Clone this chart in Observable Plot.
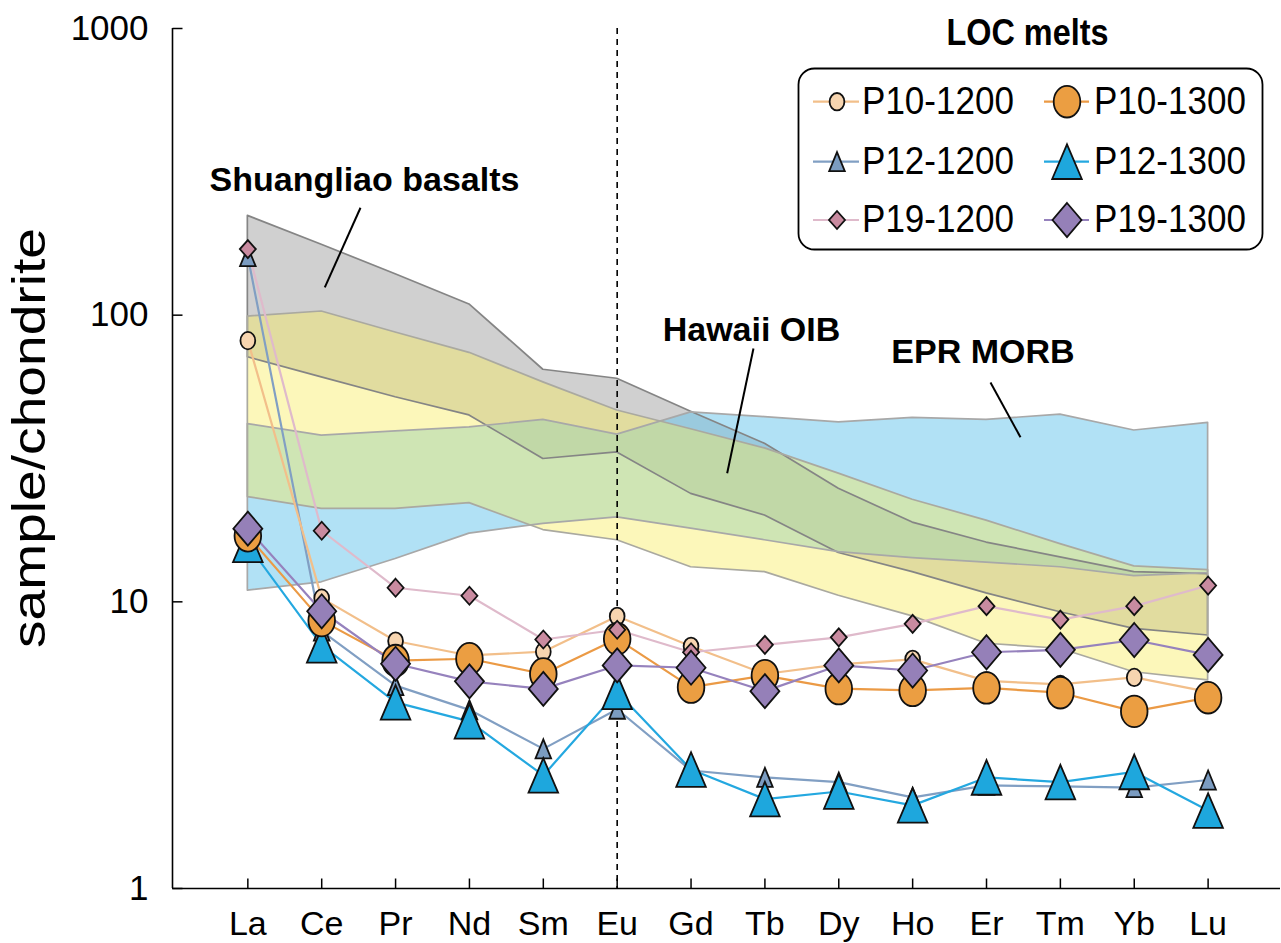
<!DOCTYPE html>
<html><head><meta charset="utf-8">
<script src="https://cdn.jsdelivr.net/npm/d3@7"></script>
<script src="https://cdn.jsdelivr.net/npm/@observablehq/plot@0.6"></script>
<style>
html,body{margin:0;padding:0;background:#fff;}
#wrap{position:relative;width:1281px;height:943px;}
#wrap svg{position:absolute;left:0;top:0;}
</style></head><body><div id="wrap"></div>
<script>
// ---------- data ----------
const elements = ["La","Ce","Pr","Nd","Sm","Eu","Gd","Tb","Dy","Ho","Er","Tm","Yb","Lu"];
const yTicks = [1, 10, 100, 1000];

const P10_1200 = [81.5, 10.3, 7.3, 6.5, 6.7, 8.9, 7.0, 5.6, 6.05, 6.3, 5.3, 5.15, 5.45, 4.85];
const P10_1300 = [17.0, 8.6, 6.24, 6.33, 5.6, 7.43, 5.04, 5.53, 4.98, 4.91, 5.01, 4.82, 4.15, 4.63];
const P12_1200 = [160, 7.9, 5.1, 4.2, 3.07, 4.22, 2.58, 2.44, 2.35, 2.08, 2.29, 2.27, 2.25, 2.39];
const P12_1300 = [15.8, 7.05, 4.46, 3.83, 2.48, 4.85, 2.6, 2.05, 2.18, 1.95, 2.44, 2.35, 2.55, 1.87];
const P19_1200 = [170, 17.7, 11.2, 10.5, 7.39, 7.99, 6.67, 7.08, 7.52, 8.38, 9.66, 8.67, 9.66, 11.4];
const P19_1300 = [18.0, 9.27, 6.08, 5.28, 4.97, 6.0, 5.89, 4.88, 6.0, 5.76, 6.67, 6.8, 7.36, 6.53];

const shuangliaoMax = [222, 176, 139, 109, 64.5, 60, 46, 35.6, 24.8, 18.9, 16.1, 14.3, 12.7, 12.5];
const shuangliaoMin = [71.3, 60.7, 51.7, 44.7, 31.5, 33.2, 23.8, 20.0, 14.8, 12.7, 10.7, 9.2, 8.05, 7.63];
const hawaiiMax = [98.9, 103, 87, 73.9, 58.3, 46.5, 40, 34.3, 28, 22.7, 19.2, 15.9, 13.3, 12.9];
const hawaiiMin = [23.2, 21.1, 21.1, 22.1, 17.8, 16.4, 13.2, 12.7, 10.5, 8.9, 7.14, 6.86, 5.68, 5.32];
const morbMax = [41.7, 38, 39.3, 40.6, 43.1, 38.3, 45.8, 44.1, 42.3, 43.8, 43.1, 45, 39.6, 42.1];
const morbMin = [10.95, 11.7, 14.1, 17.3, 18.7, 19.7, 18, 16.4, 14.9, 14.2, 13.7, 13.2, 12.3, 12.6];

const seriesNames = ["P10-1200","P10-1300","P12-1200","P12-1300","P19-1200","P19-1300"];

// ---------- symbols (marker shapes) ----------
function ellipseSym(hw, hh){ return {draw(c){ const k=0.5523;
  c.moveTo(hw,0); c.bezierCurveTo(hw,k*hh,k*hw,hh,0,hh); c.bezierCurveTo(-k*hw,hh,-hw,k*hh,-hw,0);
  c.bezierCurveTo(-hw,-k*hh,-k*hw,-hh,0,-hh); c.bezierCurveTo(k*hw,-hh,hw,-k*hh,hw,0); c.closePath(); }}; }
function triSym(hw, hh){ return {draw(c){ c.moveTo(0,-hh); c.lineTo(hw,hh); c.lineTo(-hw,hh); c.closePath(); }}; }
function diaSym(hw, hh){ return {draw(c){ c.moveTo(0,-hh); c.lineTo(hw,0); c.lineTo(0,hh); c.lineTo(-hw,0); c.closePath(); }}; }
const hTick = {draw(c){ c.moveTo(0,0); c.lineTo(10,0); }};
const vTick = {draw(c){ c.moveTo(0,0); c.lineTo(0,-10); }};

const styles = {
  "P10-1200": {values: P10_1200, line: "#f2bf8a", fill: "#f7d5b0", sym: ellipseSym(7.4, 8.7)},
  "P10-1300": {values: P10_1300, line: "#eb9a45", fill: "#eb9e42", sym: ellipseSym(13.3, 15.8)},
  "P12-1200": {values: P12_1200, line: "#819fc3", fill: "#7b9cc1", sym: triSym(7.8, 9.5)},
  "P12-1300": {values: P12_1300, line: "#24a8e0", fill: "#1ea7dd", sym: triSym(14.8, 17.3)},
  "P19-1200": {values: P19_1200, line: "#dfbacb", fill: "#c98ba0", sym: diaSym(8.0, 9.0)},
  "P19-1300": {values: P19_1300, line: "#9682bd", fill: "#9580b8", sym: diaSym(14.5, 17.0)}
};
const drawOrder = ["P12-1200","P12-1300","P10-1200","P10-1300","P19-1200","P19-1300"];

const FONT = "Liberation Sans, Arial, Helvetica, sans-serif";
const xMin = -1.02, xMax = 13.98;

const rows = arr => arr.map((v, i) => ({i, v}));
const band = (lo, hi) => lo.map((v, i) => ({i, lo: v, hi: hi[i]}));

const bands = [
  {data: band(shuangliaoMin, shuangliaoMax), fill: "#7c7c7c", op: 0.36, stroke: "#858585"},
  {data: band(morbMin, morbMax), fill: "#64c3eb", op: 0.5, stroke: "#a8a8a8"},
  {data: band(hawaiiMin, hawaiiMax), fill: "#f7ec5a", op: 0.42, stroke: "#aaa9a0"}
];

const labels = [
  {text: "Shuangliao basalts", x: 1.579, y: 295},
  {text: "Hawaii OIB", x: 6.818, y: 88.4},
  {text: "EPR MORB", x: 9.952, y: 74.1}
];
const leaders = [
  {x1: 1.525, y1: 237, x2: 1.042, y2: 125},
  {x1: 6.845, y1: 76.5, x2: 6.489, y2: 28.1},
  {x1: 10.054, y1: 58.2, x2: 10.46, y2: 37.5}
];

const marks = [];
for (const b of bands) marks.push(Plot.areaY(b.data, {x: "i", y1: "lo", y2: "hi", fill: b.fill, fillOpacity: b.op}));
for (const b of bands) marks.push(Plot.areaY(b.data, {x: "i", y1: "lo", y2: "hi", fill: "none", stroke: b.stroke, strokeWidth: 1.7}));
marks.push(Plot.ruleX([5], {stroke: "black", strokeWidth: 1.6, strokeDasharray: "6,5"}));
for (const n of drawOrder) {
  const s = styles[n];
  marks.push(Plot.line(rows(s.values), {x: "i", y: "v", stroke: s.line, strokeWidth: 2.2}));
}
for (const n of drawOrder) {
  const s = styles[n];
  marks.push(Plot.dot(rows(s.values), {x: "i", y: "v", symbol: s.sym, r: 5, fill: s.fill, stroke: "#111", strokeWidth: 1.8}));
}
// axes
marks.push(Plot.ruleX([xMin], {stroke: "black", strokeWidth: 1.6}));
marks.push(Plot.ruleY([1], {stroke: "black", strokeWidth: 1.6}));
marks.push(Plot.dot(yTicks, {x: () => xMin, y: d => d, symbol: hTick, r: 5, fill: "none", stroke: "black", strokeWidth: 1.5}));
marks.push(Plot.dot(elements, {x: (d, i) => i, y: () => 1, symbol: vTick, r: 5, fill: "none", stroke: "black", strokeWidth: 1.5}));
marks.push(Plot.text(yTicks, {x: () => xMin, y: d => d, text: d => String(d), textAnchor: "end", dx: -24, fontSize: 35, fill: "black", ariaLabel: "ytick-label"}));
marks.push(Plot.text(elements, {x: (d, i) => i, y: () => 1, text: d => d, dy: 36, fontSize: 34, fill: "black", ariaLabel: "xtick-label"}));
// annotations
marks.push(Plot.link(leaders, {x1: "x1", y1: "y1", x2: "x2", y2: "y2", stroke: "black", strokeWidth: 2}));
marks.push(Plot.text(labels, {x: "x", y: "y", text: "text", fontSize: 34, fontWeight: "bold", fill: "black", ariaLabel: "annot"}));

const svg = Plot.plot({
  width: 1281, height: 943,
  marginLeft: 172, marginRight: 1, marginTop: 28, marginBottom: 55,
  x: {domain: [xMin, xMax], axis: null},
  y: {type: "log", domain: [1, 1000], axis: null},
  style: {fontFamily: FONT, background: "white", overflow: "visible"},
  marks
});
const wrap = document.getElementById("wrap");
wrap.appendChild(svg);

function squeeze(nodes, f) {
  nodes.forEach(n => {
    const L = n.getComputedTextLength();
    n.setAttribute("textLength", (L * f).toFixed(1));
    n.setAttribute("lengthAdjust", "spacingAndGlyphs");
  });
}
squeeze(svg.querySelectorAll('g[aria-label="ytick-label"] text'), 0.82);
squeeze(svg.querySelectorAll('g[aria-label="xtick-label"] text'), 0.86);
squeeze(svg.querySelectorAll('g[aria-label="annot"] text'), 0.96);

// ---------- overlay: y label and legend ----------
const ov = d3.select(wrap).append("svg").attr("width", 1281).attr("height", 943).style("font-family", FONT);
ov.append("text").attr("transform", "translate(45,438) rotate(-90)").attr("text-anchor", "middle")
  .attr("font-size", 46).attr("fill", "black").attr("textLength", 420).attr("lengthAdjust", "spacingAndGlyphs")
  .text("sample/chondrite");

ov.append("text").attr("x", 1027.5).attr("y", 45).attr("text-anchor", "middle").attr("font-size", 37)
  .attr("font-weight", "bold").attr("textLength", 162).attr("lengthAdjust", "spacingAndGlyphs").text("LOC melts");
ov.append("rect").attr("x", 798.5).attr("y", 68.5).attr("width", 464).attr("height", 181).attr("rx", 16)
  .attr("fill", "white").attr("stroke", "black").attr("stroke-width", 1.8);

const legCols = [{m: 837, l1: 813, l2: 859, t: 862}, {m: 1067, l1: 1044, l2: 1089, t: 1094}];
const legRows = [101.7, 161.7, 220];
seriesNames.forEach((n, k) => {
  const s = styles[n];
  const c = legCols[k % 2], r = legRows[Math.floor(k / 2)];
  ov.append("line").attr("x1", c.l1).attr("x2", c.l2).attr("y1", r).attr("y2", r).attr("stroke", s.line).attr("stroke-width", 2.2);
  ov.append("path").attr("d", d3.symbol(s.sym)()).attr("transform", `translate(${c.m},${r})`)
    .attr("fill", s.fill).attr("stroke", "#111").attr("stroke-width", 1.8);
  ov.append("text").attr("x", c.t).attr("y", r + 12).attr("font-size", 39).attr("fill", "black")
    .attr("textLength", 152).attr("lengthAdjust", "spacingAndGlyphs").text(n);
});
</script></body></html>
